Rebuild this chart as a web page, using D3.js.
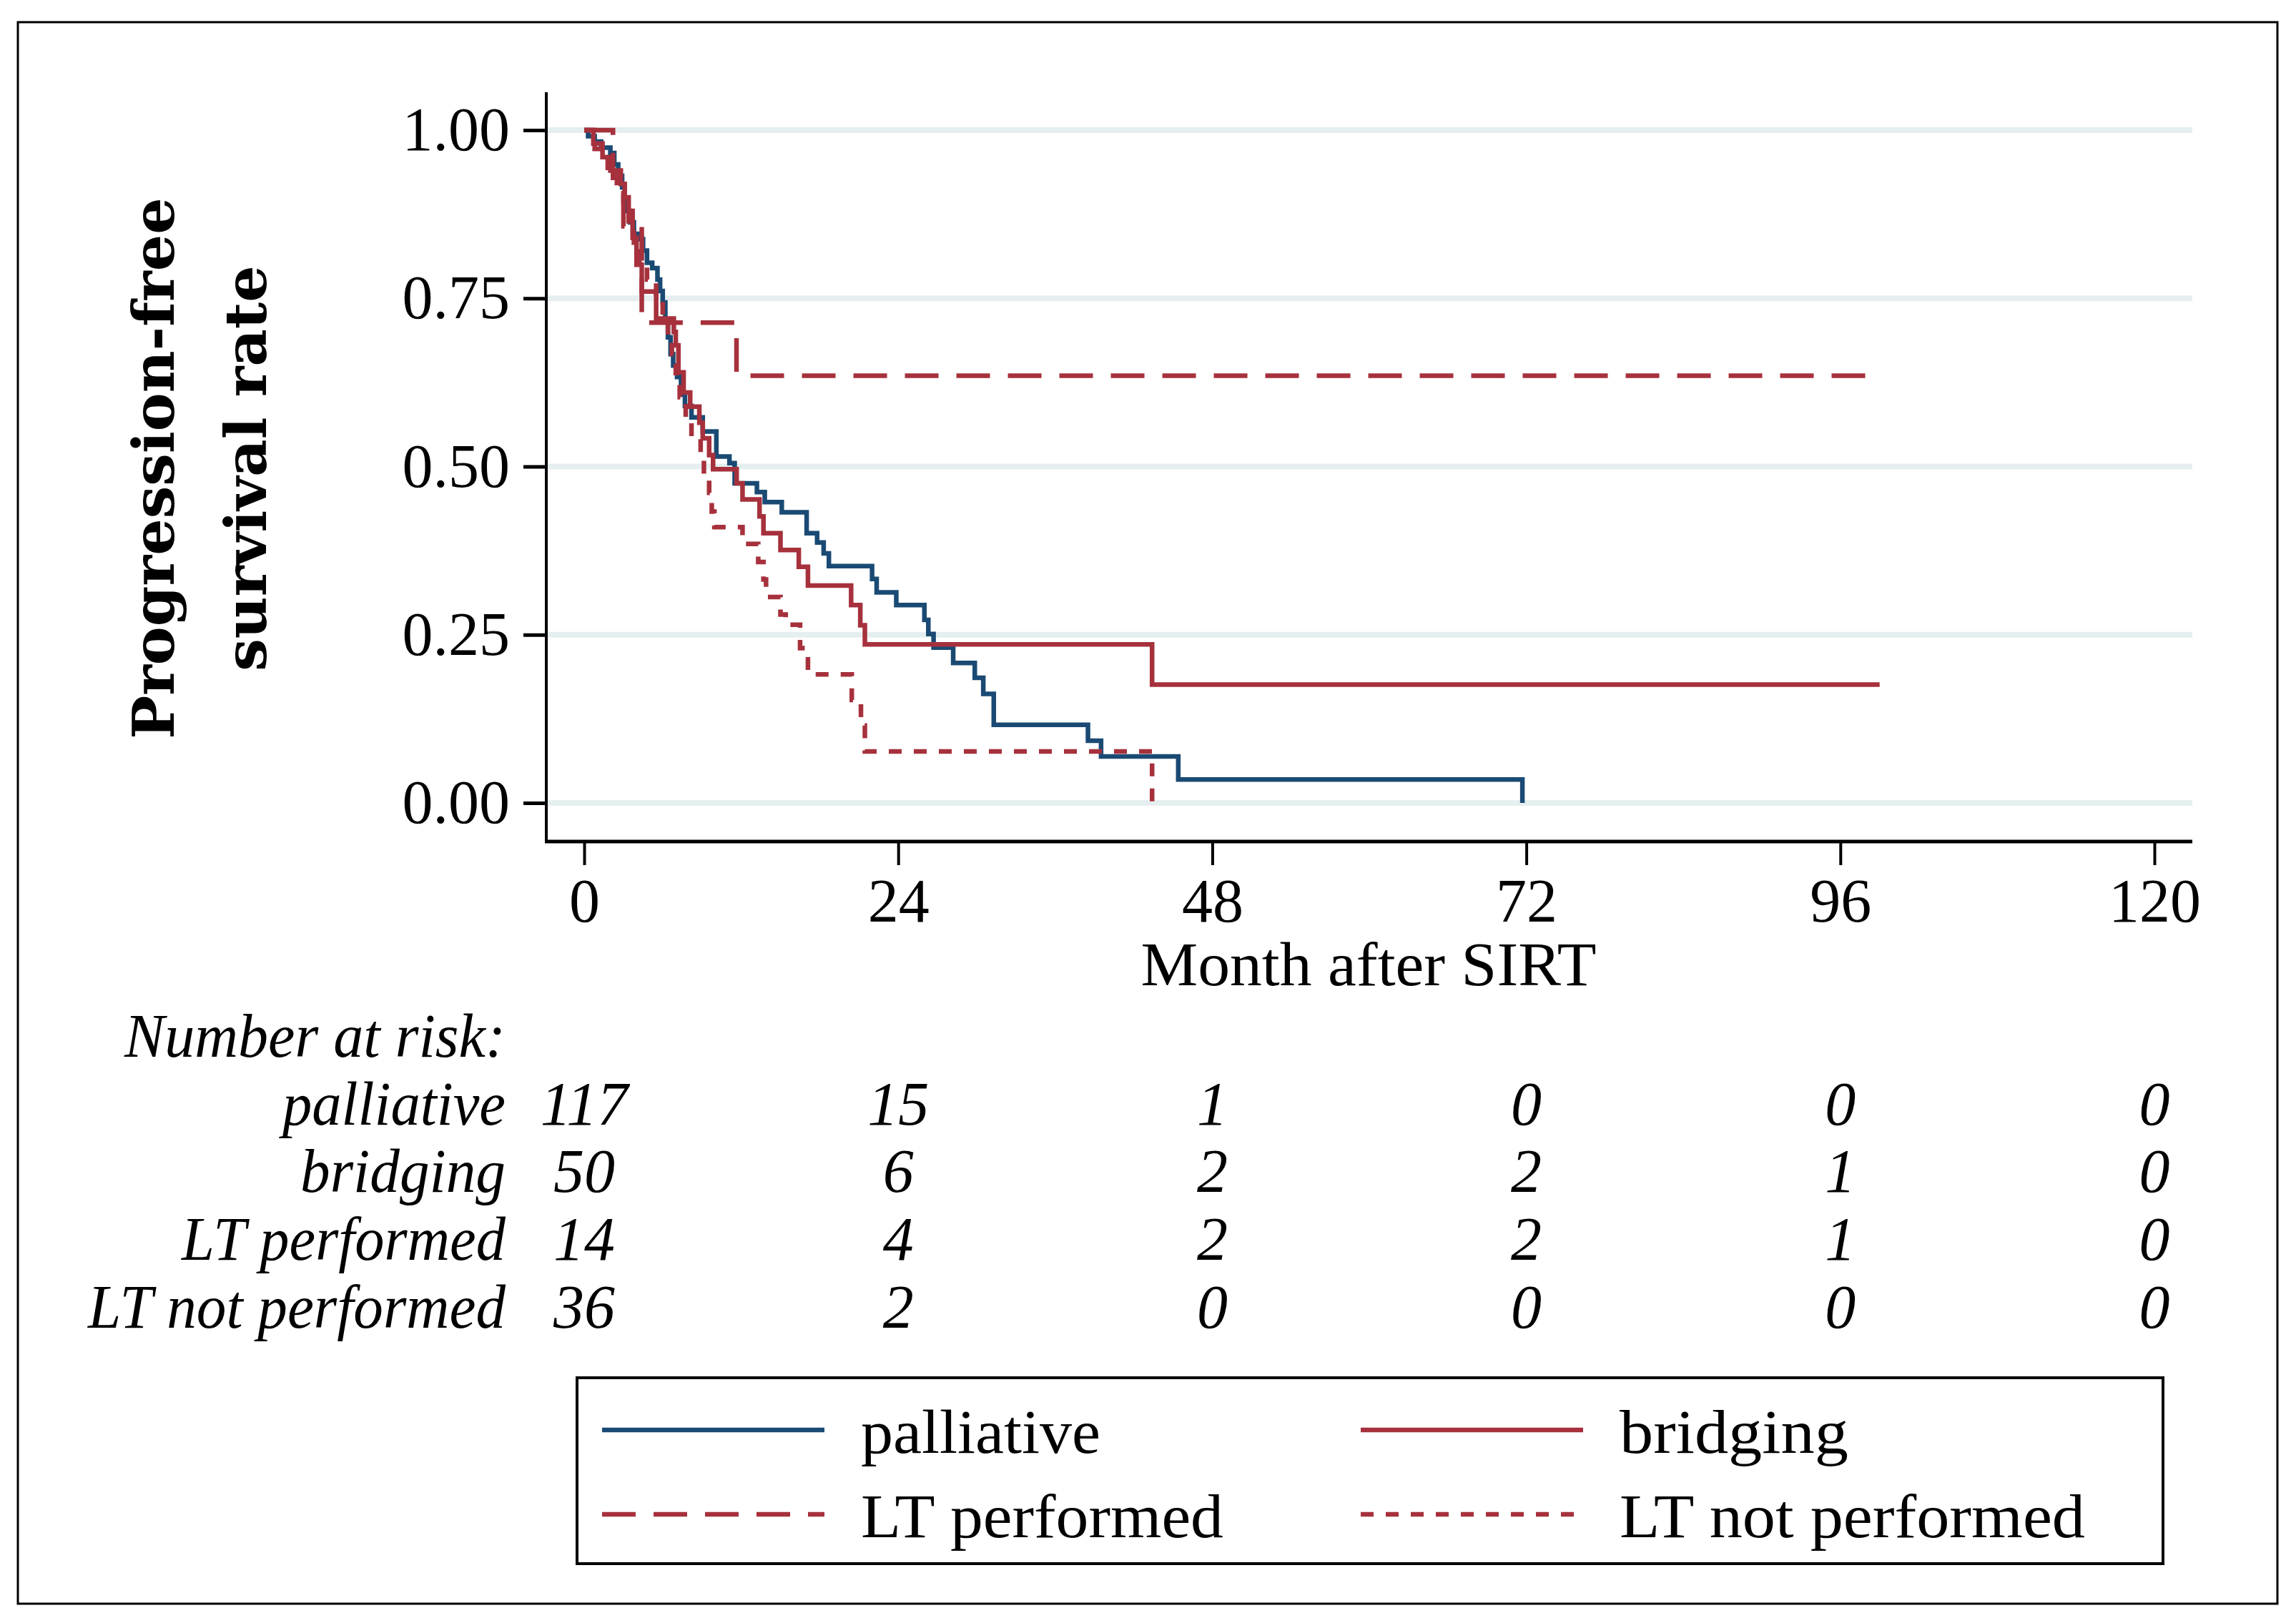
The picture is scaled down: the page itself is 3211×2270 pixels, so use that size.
<!DOCTYPE html>
<html>
<head>
<meta charset="utf-8">
<script src="https://cdnjs.cloudflare.com/ajax/libs/d3/7.8.5/d3.min.js"></script>
<style>
  body { margin: 0; background: #fff; }
  svg text { font-family: "Liberation Serif", "Times New Roman", serif; fill: #000; }
</style>
</head>
<body>
<div id="chart"></div>
<script>
var svgWidth = 3211;
var svgHeight = 2270;

// axis ticks
var xTicks = [0, 24, 48, 72, 96, 120];
var yTicks = [0, 0.25, 0.5, 0.75, 1];

// Kaplan-Meier steps (month, survival)
var palliativeTime = [0, 0.3, 0.8, 1.3, 2.0, 2.3, 2.6, 2.9, 3.1, 3.3, 3.5, 3.8, 4.2, 4.5, 4.8, 5.2, 5.6, 5.8, 6.0, 6.2, 6.4, 6.6, 6.8, 7.1, 7.4, 7.7, 8.2, 9.06, 10.1, 11.1, 11.5, 13.2, 13.8, 15.1, 17.0, 17.8, 18.3, 18.7, 22.0, 22.35, 23.85, 26.0, 26.3, 26.7, 28.2, 29.85, 30.5, 31.3, 38.5, 39.5, 45.4, 71.7];
var palliativeSurv = [1, 0.991, 0.983, 0.974, 0.966, 0.949, 0.932, 0.915, 0.897, 0.88, 0.863, 0.846, 0.838, 0.821, 0.803, 0.795, 0.778, 0.761, 0.744, 0.718, 0.692, 0.667, 0.650, 0.633, 0.607, 0.590, 0.573, 0.552, 0.515, 0.505, 0.475, 0.462, 0.447, 0.432, 0.401, 0.387, 0.371, 0.352, 0.333, 0.313, 0.294, 0.272, 0.251, 0.231, 0.208, 0.186, 0.162, 0.116, 0.0925, 0.069, 0.0347, 0];

var bridgingTime = [0, 0.7, 1.4, 2.0, 2.8, 3.1, 3.4, 3.7, 4.0, 4.4, 5.5, 6.85, 7.0, 7.2, 7.6, 8.1, 8.8, 9.06, 9.55, 9.85, 11.65, 12.1, 13.4, 13.7, 15.0, 16.4, 17.1, 20.4, 21.1, 21.45, 43.4, 99.0];
var bridgingSurv = [1, 0.98, 0.96, 0.94, 0.92, 0.90, 0.88, 0.84, 0.80, 0.76, 0.72, 0.70, 0.68, 0.64, 0.61, 0.589, 0.565, 0.542, 0.517, 0.496, 0.475, 0.451, 0.426, 0.401, 0.376, 0.351, 0.323, 0.294, 0.264, 0.2356, 0.1758, 0.1758];

var ltPerformedTime = [0, 2.2, 3.0, 4.4, 11.64, 98.7];
var ltPerformedSurv = [1, 0.929, 0.857, 0.714, 0.635, 0.635];

var ltNotPerformedTime = [0, 0.8, 1.8, 2.5, 3.0, 3.4, 3.8, 4.3, 4.8, 5.5, 6.0, 6.4, 6.7, 7.0, 7.3, 7.76, 8.2, 8.9, 9.15, 9.55, 9.75, 9.95, 12.1, 13.3, 13.7, 13.9, 15.0, 15.4, 16.5, 17.1, 20.45, 21.15, 21.45, 43.4];
var ltNotPerformedSurv = [1, 0.972, 0.944, 0.917, 0.889, 0.861, 0.833, 0.806, 0.778, 0.75, 0.722, 0.694, 0.667, 0.639, 0.603, 0.573, 0.545, 0.517, 0.489, 0.461, 0.433, 0.41, 0.385, 0.358, 0.332, 0.306, 0.28, 0.265, 0.23, 0.191, 0.153, 0.115, 0.0765, 0];

// number at risk table
var riskLabels = ["palliative", "bridging", "LT performed", "LT not performed"];
var riskPalliative = [117, 15, 1, 0, 0, 0];
var riskBridging = [50, 6, 2, 2, 1, 0];
var riskLtPerformed = [14, 4, 2, 2, 1, 0];
var riskLtNotPerformed = [36, 2, 0, 0, 0, 0];

var navy = "#1a4a74";
var red = "#a6313c";

var svg = d3.select("#chart")
  .append("svg")
  .attr("width", svgWidth)
  .attr("height", svgHeight);

// outer frame
svg.append("rect")
  .attr("x", 25).attr("y", 31)
  .attr("width", 3160).attr("height", 2212)
  .attr("fill", "none")
  .attr("stroke", "#000")
  .attr("stroke-width", 3);

var xScale = d3.scaleLinear().domain([0, 120]).range([817, 3013]);
var yScale = d3.scaleLinear().domain([0, 1]).range([1123, 182]);

var plotLeft = 764, plotRight = 3066, plotTop = 129, plotBottom = 1177;

// gridlines
svg.append("g")
  .selectAll("line")
  .data(yTicks)
  .enter()
  .append("line")
  .attr("x1", plotLeft + 2).attr("x2", plotRight)
  .attr("y1", d => yScale(d)).attr("y2", d => yScale(d))
  .attr("stroke", "#e6eff0")
  .attr("stroke-width", 8);

// y axis
var leftAxis = d3.axisLeft(yScale)
  .tickValues(yTicks)
  .tickFormat(d3.format(".2f"))
  .tickSize(32)
  .tickSizeOuter(0)
  .tickPadding(19);

var yAxisG = svg.append("g")
  .attr("transform", `translate(${plotLeft}, 0)`)
  .call(leftAxis);
yAxisG.select(".domain").remove();
yAxisG.selectAll(".tick line").attr("stroke", "#000").attr("stroke-width", 5);
yAxisG.selectAll(".tick text")
  .attr("font-size", 86)
  .attr("font-family", "Liberation Serif");

// x axis
var bottomAxis = d3.axisBottom(xScale)
  .tickValues(xTicks)
  .tickSize(33)
  .tickSizeOuter(0)
  .tickPadding(18);

var xAxisG = svg.append("g")
  .attr("transform", `translate(0, ${plotBottom})`)
  .call(bottomAxis);
xAxisG.select(".domain").remove();
xAxisG.selectAll(".tick line").attr("stroke", "#000").attr("stroke-width", 4);
xAxisG.selectAll(".tick text")
  .attr("font-size", 86)
  .attr("font-family", "Liberation Serif");

svg.append("line")
  .attr("x1", plotLeft).attr("x2", plotLeft)
  .attr("y1", plotTop).attr("y2", plotBottom + 2)
  .attr("stroke", "#000").attr("stroke-width", 4);
svg.append("line")
  .attr("x1", plotLeft - 2).attr("x2", plotRight)
  .attr("y1", plotBottom).attr("y2", plotBottom)
  .attr("stroke", "#000").attr("stroke-width", 5);

// curves
function toPoints(times, surv) {
  return times.map((t, i) => [t, surv[i]]);
}

var stepLine = d3.line()
  .x(d => xScale(d[0]))
  .y(d => yScale(d[1]))
  .curve(d3.curveStepAfter);

var series = [
  { pts: toPoints(palliativeTime, palliativeSurv), color: navy, dash: null },
  { pts: toPoints(bridgingTime, bridgingSurv), color: red, dash: null },
  { pts: toPoints(ltPerformedTime, ltPerformedSurv), color: red, dash: "47,25" },
  { pts: toPoints(ltNotPerformedTime, ltNotPerformedSurv), color: red, dash: "18,17" }
];

svg.append("g")
  .selectAll("path")
  .data(series)
  .enter()
  .append("path")
  .attr("d", d => stepLine(d.pts))
  .attr("fill", "none")
  .attr("stroke", d => d.color)
  .attr("stroke-width", 6.5)
  .attr("stroke-dasharray", d => d.dash)
  .attr("stroke-linejoin", "miter");

// axis titles
svg.append("text")
  .attr("x", 1914)
  .attr("y", 1378)
  .attr("text-anchor", "middle")
  .attr("font-size", 86)
  .attr("textLength", 637)
  .attr("lengthAdjust", "spacingAndGlyphs")
  .text("Month after SIRT");

var yTitle = [["Progression-free", 243], ["survival rate", 372]];
svg.append("g")
  .selectAll("text")
  .data(yTitle)
  .enter()
  .append("text")
  .attr("transform", d => `translate(${d[1]}, 655) rotate(-90)`)
  .attr("text-anchor", "middle")
  .attr("font-size", 81)
  .attr("font-weight", "bold")
  .style("font-family", "'DejaVu Serif', serif")
  .text(d => d[0]);

// number at risk
svg.append("text")
  .attr("x", 707).attr("y", 1478)
  .attr("text-anchor", "end")
  .attr("font-size", 86)
  .attr("font-style", "italic")
  .attr("textLength", 533)
  .attr("lengthAdjust", "spacingAndGlyphs")
  .text("Number at risk:");

var riskRows = [riskPalliative, riskBridging, riskLtPerformed, riskLtNotPerformed];
var rowY = [1573, 1667, 1762, 1857];
var rowLabelWidth = [312, 287, 453, 584];

riskRows.forEach(function(row, i) {
  svg.append("text")
    .attr("x", 707).attr("y", rowY[i])
    .attr("text-anchor", "end")
    .attr("font-size", 86)
    .attr("font-style", "italic")
    .attr("textLength", rowLabelWidth[i])
    .attr("lengthAdjust", "spacingAndGlyphs")
    .text(riskLabels[i]);

  svg.append("g")
    .selectAll("text")
    .data(row)
    .enter()
    .append("text")
    .attr("x", (d, j) => xScale(xTicks[j]))
    .attr("y", rowY[i])
    .attr("text-anchor", "middle")
    .attr("font-size", 86)
    .attr("font-style", "italic")
    .text(d => d);
});

// legend
svg.append("rect")
  .attr("x", 807).attr("y", 1927)
  .attr("width", 2218).attr("height", 260)
  .attr("fill", "none")
  .attr("stroke", "#000")
  .attr("stroke-width", 4);

var legendItems = [
  { label: "palliative", color: navy, dash: null, x: 842, y: 2000, w: 335 },
  { label: "bridging", color: red, dash: null, x: 1903, y: 2000, w: 320 },
  { label: "LT performed", color: red, dash: "47,25", x: 842, y: 2118, w: 507 },
  { label: "LT not performed", color: red, dash: "18,17", x: 1903, y: 2118, w: 651 }
];

var legendG = svg.append("g")
  .selectAll("g")
  .data(legendItems)
  .enter()
  .append("g");

legendG.append("line")
  .attr("x1", d => d.x).attr("x2", d => d.x + 311)
  .attr("y1", d => d.y).attr("y2", d => d.y)
  .attr("stroke", d => d.color)
  .attr("stroke-width", 6.5)
  .attr("stroke-dasharray", d => d.dash);

legendG.append("text")
  .attr("x", d => d.x + 362)
  .attr("y", d => d.y + 32)
  .attr("font-size", 86)
  .attr("textLength", d => d.w)
  .attr("lengthAdjust", "spacingAndGlyphs")
  .text(d => d.label);
</script>
</body>
</html>
